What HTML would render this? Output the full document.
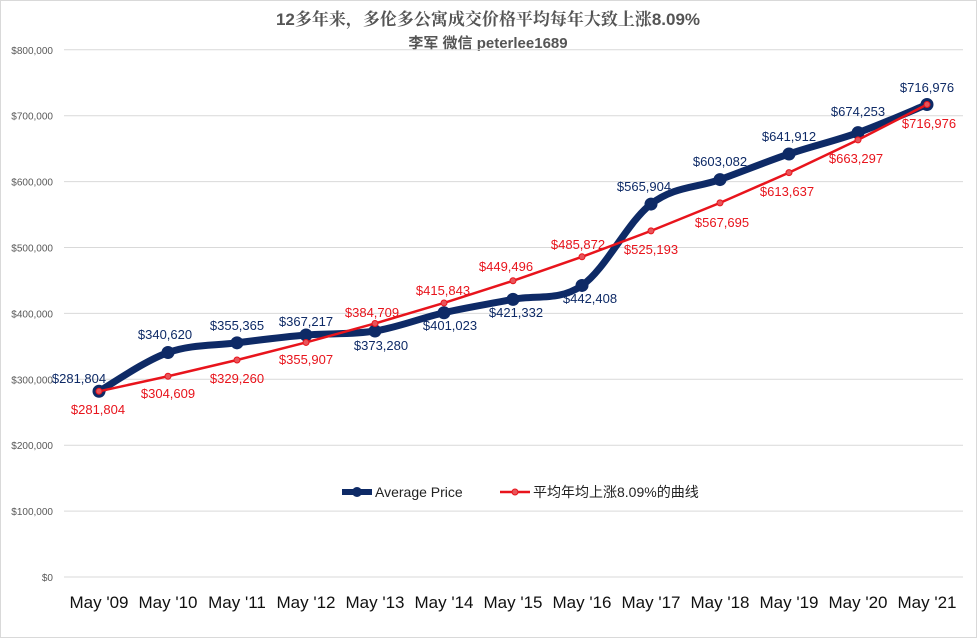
<!DOCTYPE html>
<html><head><meta charset="utf-8"><style>
html,body{margin:0;padding:0;background:#fff}
svg{display:block}
text{font-family:"Liberation Sans","Noto Sans CJK SC",sans-serif}
</style></head><body>
<svg id="s" width="977" height="638" xmlns="http://www.w3.org/2000/svg">
<rect x="0.5" y="0.5" width="976" height="637" fill="#fff" stroke="#d9d9d9"/>
<text x="488" y="25" text-anchor="middle" font-size="17" font-weight="bold" fill="#555" style="font-family:'Liberation Sans','Noto Serif CJK SC',serif">12多年来，多伦多公寓成交价格平均每年大致上涨8.09%</text>
<text x="488" y="48" text-anchor="middle" font-size="15" font-weight="bold" fill="#555">李军 微信 peterlee1689</text>
<g id="grid"></g>
<g id="lines"></g>
<g id="labels"></g>
<g>
<line x1="342" y1="492" x2="372" y2="492" stroke="#0e2a66" stroke-width="6"/>
<circle cx="357" cy="492" r="5" fill="#0e2a66"/>
<text x="375" y="497" font-size="14" fill="#222">Average Price</text>
<line x1="500" y1="492" x2="530" y2="492" stroke="#e8141c" stroke-width="2.5"/>
<circle cx="515" cy="492" r="3" fill="#e8555a" stroke="#e8141c"/>
<text x="533" y="497" font-size="14" fill="#222">平均年均上涨8.09%的曲线</text>
</g>
</svg>
<script>
const NS="http://www.w3.org/2000/svg";
function el(p,t,a,txt){const e=document.createElementNS(NS,t);for(const k in a)e.setAttribute(k,a[k]);if(txt!==undefined)e.textContent=txt;document.getElementById(p).appendChild(e);return e;}
const Y=v=>577-v/100000*65.9, X=i=>99+69*i;
for(let k=0;k<=8;k++){const y=Y(k*100000);
 el("grid","line",{x1:64,x2:963,y1:y,y2:y,stroke:"#d9d9d9","stroke-width":1});
 el("grid","text",{x:53,y:y+4,"text-anchor":"end","font-size":10,fill:"#595959"},k==0?"$0":"$"+(k*100)+",000");}
const yrs=["09","10","11","12","13","14","15","16","17","18","19","20","21"];
yrs.forEach((yy,i)=>el("grid","text",{x:X(i),y:608,"text-anchor":"middle","font-size":17,fill:"#111"},"May '"+yy));
const B=[281804,340620,355365,367217,373280,401023,421332,442408,565904,603082,641912,674253,716976];
const R=[281804,304609,329260,355907,384709,415843,449496,485872,525193,567695,613637,663297,716976];
const f=v=>"$"+v.toLocaleString("en-US");
// blue smooth
const P=B.map((v,i)=>[X(i),Y(v)]);let d="M"+P[0];
for(let i=0;i<P.length-1;i++){const p0=P[Math.max(0,i-1)],p1=P[i],p2=P[i+1],p3=P[Math.min(P.length-1,i+2)];
 const t=0.17;const c1=[p1[0]+(p2[0]-p0[0])*t,p1[1]+(p2[1]-p0[1])*t],c2=[p2[0]-(p3[0]-p1[0])*t,p2[1]-(p3[1]-p1[1])*t];
 d+=" C"+c1+" "+c2+" "+p2;}
el("lines","path",{d:d,fill:"none",stroke:"#0e2a66","stroke-width":7,"stroke-linejoin":"round"});
P.forEach(p=>el("lines","circle",{cx:p[0],cy:p[1],r:6.5,fill:"#0e2a66"}));
// red line on top
el("lines","polyline",{points:R.map((v,i)=>X(i)+","+Y(v)).join(" "),fill:"none",stroke:"#e8141c","stroke-width":2.5});
R.forEach((v,i)=>el("lines","circle",{cx:X(i),cy:Y(v),r:3,fill:"#e8555a",stroke:"#e8141c","stroke-width":1}));
const BL=[[79,383],[165,339],[237,330],[306,326],[381,350],[450,330],[516,317],[590,303],[644,191],[720,166],[789,141],[858,116],[927,92]];
const RL=[[98,414],[168,398],[237,383],[306,364],[372,317],[443,295],[506,271],[578,249],[651,254],[722,227],[787,196],[856,163],[929,128]];
B.forEach((v,i)=>el("labels","text",{x:BL[i][0],y:BL[i][1],"text-anchor":"middle","font-size":13,fill:"#0e2a66"},f(v)));
R.forEach((v,i)=>el("labels","text",{x:RL[i][0],y:RL[i][1],"text-anchor":"middle","font-size":13,fill:"#e8141c"},f(v)));
</script>
</body></html>
